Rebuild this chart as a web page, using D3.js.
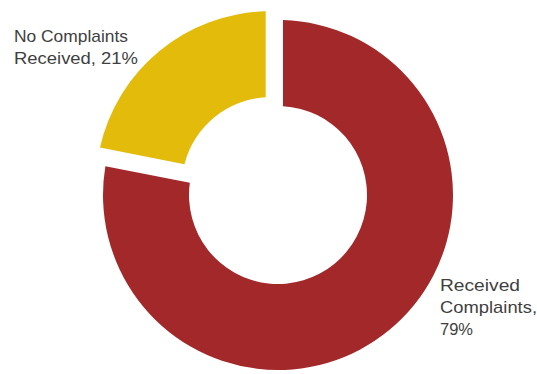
<!DOCTYPE html>
<html>
<head>
<meta charset="utf-8">
<script src="https://cdn.jsdelivr.net/npm/d3@7/dist/d3.min.js"></script>
<style>
  html, body { margin: 0; padding: 0; background: #ffffff; }
  svg { display: block; }
  text { font-family: "Liberation Sans", Arial, sans-serif; fill: #3f3f3f; }
</style>
</head>
<body>
<svg id="chart" width="537" height="374"></svg>
<script>
// Complaint status shares (percent)
const categories = ["Received Complaints", "No Complaints Received"];
const values = [79, 21];
const colors = ["#a3282a", "#e2bb0b"];
// Which slice is pulled out of the ring
const exploded = [false, true];
// Label lines for each slice
const labelLines = [
  ["Received", "Complaints,", "79%"],
  ["No Complaints", "Received, 21%"]
];

const width = 537, height = 374;
const cx = 278, cy = 195;
const outerR = 175, innerR = 89;
const explodeDist = 11.5;

const svg = d3.select("#chart");

const pie = d3.pie()
  .value(d => d.value)
  .sort(null)
  .startAngle(0)
  .endAngle(2 * Math.PI)
  .padAngle(0.1);

const arc = d3.arc()
  .innerRadius(innerR)
  .outerRadius(outerR)
  .padRadius(100);

const data = categories.map((c, i) => ({ name: c, value: values[i], color: colors[i], exploded: exploded[i], lines: labelLines[i] }));
const arcs = pie(data);

const g = svg.append("g").attr("transform", `translate(${cx},${cy})`);

g.selectAll("path.slice")
  .data(arcs)
  .join("path")
  .attr("class", "slice")
  .attr("fill", d => d.data.color)
  .attr("transform", d => {
    if (!d.data.exploded) return null;
    const mid = (d.startAngle + d.endAngle) / 2;
    return `translate(${explodeDist * Math.sin(mid)},${-explodeDist * Math.cos(mid)})`;
  })
  .attr("d", arc);

// Data labels placed outside the ring
const labelPos = [
  { x: 440, y: 290.5, lh: 22.3, widths: [80, 97, 33] },
  { x: 14, y: 41.7, lh: 22.6, widths: [114, 124] }
];

arcs.forEach((d, i) => {
  const p = labelPos[i];
  const t = svg.append("text")
    .attr("x", p.x)
    .attr("y", p.y)
    .attr("font-size", 17);
  d.data.lines.forEach((line, j) => {
    t.append("tspan")
      .attr("x", p.x)
      .attr("y", p.y + j * p.lh)
      .attr("textLength", p.widths[j])
      .attr("lengthAdjust", "spacingAndGlyphs")
      .text(line);
  });
});
</script>
</body>
</html>
